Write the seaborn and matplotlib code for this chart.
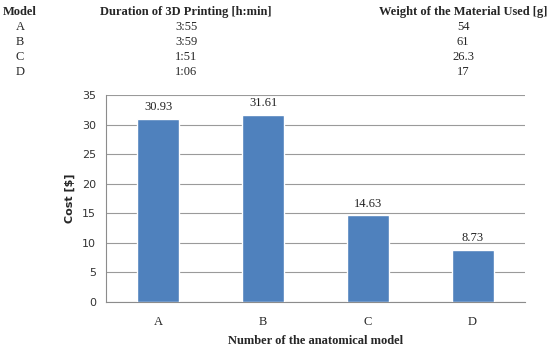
import numpy as np
import pandas as pd
import seaborn as sns
import matplotlib.pyplot as plt

# data
models = ["A", "B", "C", "D"]
cost = [30.93, 31.61, 14.63, 8.73]
duration = ["3:55", "3:59", "1:51", "1:06"]
weight = ["54", "61", "26.3", "17"]

df = pd.DataFrame({"model": models, "cost": cost})

sns.set_style("white")
serif = ["Liberation Serif", "DejaVu Serif"]
sans = ["DejaVu Sans"]

fig = plt.figure(figsize=(5.5, 3.5), dpi=100)
ax = fig.add_axes([0.1927, 0.137, 0.7618, 0.5916])

sns.barplot(data=df, x="model", y="cost", color="#4F81BD", saturation=1,
            width=0.4, ax=ax, zorder=3)

ax.set_ylim(0, 35)
ax.set_yticks(np.arange(0, 36, 5))
ax.set_xlim(-0.5, 3.5)
ax.yaxis.grid(True, color="#9a9a9a", linewidth=0.8, zorder=0)
ax.set_axisbelow(True)
for s in ["top", "right"]:
    ax.spines[s].set_visible(False)
ax.spines["left"].set_color("#8c8c8c")
ax.spines["bottom"].set_color("#8c8c8c")

# category boundary ticks on x axis
ax.set_xticks([0, 1, 2, 3])
ax.set_xticklabels(models, fontfamily=serif, fontsize=9)
ax.set_xticks([-0.5, 0.5, 1.5, 2.5, 3.5], minor=True)
ax.tick_params(axis="x", which="major", length=0, pad=10)
ax.tick_params(axis="x", which="minor", length=4, color="#8c8c8c", direction="out")
ax.tick_params(axis="y", length=4, color="#8c8c8c", direction="out", labelsize=8,
               labelcolor="#333333", pad=3)

for i, v in enumerate(cost):
    ax.text(i, v + 1.0, f"{v:.2f}", ha="center", va="bottom", fontsize=9,
            fontfamily=serif, color="#222222")

ax.set_ylabel("Cost [$]", fontsize=8, fontweight="bold", fontfamily=sans, labelpad=5)
ax.set_xlabel("Number of the anatomical model", fontsize=9, fontweight="bold",
              fontfamily=serif, labelpad=5)

# table above the chart
ys = [12, 27, 42, 57, 72]
def fy(py):
    return 1 - py / 350
fig.text(3 / 550, fy(ys[0]), "Model", ha="left", va="center", fontsize=9,
         fontweight="bold", fontfamily=serif)
fig.text(186 / 550, fy(ys[0]), "Duration of 3D Printing [h:min]", ha="center",
         va="center", fontsize=9, fontweight="bold", fontfamily=serif)
fig.text(463 / 550, fy(ys[0]), "Weight of the Material Used [g]", ha="center",
         va="center", fontsize=9, fontweight="bold", fontfamily=serif)
for k in range(4):
    fig.text(20 / 550, fy(ys[k + 1]), models[k], ha="center", va="center",
             fontsize=9, fontfamily=serif)
    fig.text(186 / 550, fy(ys[k + 1]), duration[k], ha="center", va="center",
             fontsize=9, fontfamily=serif)
    fig.text(463 / 550, fy(ys[k + 1]), weight[k], ha="center", va="center",
             fontsize=9, fontfamily=serif)

fig.savefig("out.png", dpi=100)
